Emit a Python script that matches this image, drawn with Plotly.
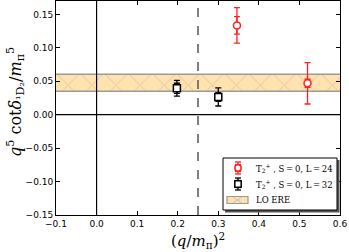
import plotly.graph_objects as go

# data
x24 = [0.346, 0.520]
y24 = [0.1335, 0.047]
err24_outer = [0.0265, 0.031]
err24_inner = [0.013, 0.006]

x32 = [0.198, 0.300]
y32 = [0.0395, 0.0265]
err32_outer = [0.0118, 0.0135]
err32_inner = [0.0075, 0.0065]

ere_low = 0.035
ere_high = 0.0605
ere_x = [-0.1, 0.6]

xtick_vals = [-0.1, 0.0, 0.1, 0.2, 0.3, 0.4, 0.5, 0.6]
xtick_text = ["\u22120.1", "0.0", "0.1", "0.2", "0.3", "0.4", "0.5", "0.6"]
ytick_vals = [-0.15, -0.10, -0.05, 0.0, 0.05, 0.10, 0.15]
ytick_text = ["\u22120.15", "\u22120.10", "\u22120.05", "0.00", "0.05", "0.10", "0.15"]

legend_labels = ["T<sub>2</sub><sup>+</sup> , S\u2009=\u20090, L\u2009=\u200924",
                 "T<sub>2</sub><sup>+</sup> , S\u2009=\u20090, L\u2009=\u200932",
                 "LO ERE"]

threshold_x = 0.25

RED = "#ff2020"
BAND = "#FFE2AE"
BANDEDGE = "#9a9a9a"

# layout geometry (pixels)
W, H = 349, 252
ML, MR, MT, MB = 56, 9, 1, 37
PW = W - ML - MR
PH = H - MT - MB


def px(xp):
    return (xp - ML) / PW


def py(yp):
    return (H - MB - yp) / PH


fig = go.Figure()

# LO ERE band
fig.add_trace(go.Scatter(
    x=ere_x, y=[ere_low, ere_low], mode="lines",
    line=dict(color=BANDEDGE, width=1.5), showlegend=False, hoverinfo="skip"))
fig.add_trace(go.Scatter(
    x=ere_x, y=[ere_high, ere_high], mode="lines",
    line=dict(color=BANDEDGE, width=1.5), fill="tonexty",
    fillcolor=BAND,
    fillpattern=dict(shape="x", fgcolor=BANDEDGE, bgcolor=BAND, size=17, solidity=0.08),
    name=legend_labels[2], showlegend=False))

# L=24
fig.add_trace(go.Scatter(
    x=x24, y=y24, mode="markers",
    marker=dict(size=1, color="rgba(0,0,0,0)"),
    error_y=dict(type="data", array=err24_outer, color=RED, thickness=1.3, width=3),
    showlegend=False, hoverinfo="skip"))
fig.add_trace(go.Scatter(
    x=x24, y=y24, mode="markers",
    marker=dict(symbol="circle", size=7, color="white", line=dict(color=RED, width=1.5)),
    error_y=dict(type="data", array=err24_inner, color=RED, thickness=1.3, width=3),
    name=legend_labels[0], showlegend=False))

# L=32
fig.add_trace(go.Scatter(
    x=x32, y=y32, mode="markers",
    marker=dict(size=1, color="rgba(0,0,0,0)"),
    error_y=dict(type="data", array=err32_outer, color="black", thickness=1.3, width=3),
    showlegend=False, hoverinfo="skip"))
fig.add_trace(go.Scatter(
    x=x32, y=y32, mode="markers",
    marker=dict(symbol="square", size=7, color="white", line=dict(color="black", width=1.5)),
    error_y=dict(type="data", array=err32_inner, color="black", thickness=1.3, width=3),
    name=legend_labels[1], showlegend=False))

# reference lines
fig.add_shape(type="line", x0=0, x1=0, y0=0, y1=1, xref="x", yref="paper",
              line=dict(color="black", width=1.2))
fig.add_shape(type="line", x0=0, x1=1, y0=0, y1=0, xref="paper", yref="y",
              line=dict(color="black", width=1.2))
fig.add_shape(type="line", x0=threshold_x, x1=threshold_x, y0=0, y1=1, xref="x", yref="paper",
              line=dict(color="#555555", width=1.5, dash="dash"))


# ---- manual legend (box + swatches + labels) ----
def rect(x0, y0, x1, y1, **kw):
    fig.add_shape(type="rect", xref="paper", yref="paper",
                  x0=px(x0), x1=px(x1), y0=py(y1), y1=py(y0), layer="above", **kw)


def seg(x0, y0, x1, y1, color, width=1.3):
    fig.add_shape(type="line", xref="paper", yref="paper",
                  x0=px(x0), x1=px(x1), y0=py(y0), y1=py(y1), layer="above",
                  line=dict(color=color, width=width))


rect(225, 160, 339.5, 212.5, fillcolor="#555555", line=dict(width=0))
rect(223, 158, 337, 210, fillcolor="white", line=dict(color="black", width=1))

rows_y = [168, 184, 200]
mx = 238
for yc, col, sym in [(rows_y[0], RED, "circle"), (rows_y[1], "black", "square")]:
    seg(mx, yc - 6, mx, yc + 6, col)
    for yy in (yc - 6, yc - 3.5, yc + 3.5, yc + 6):
        seg(mx - 3, yy, mx + 3, yy, col)
    fig.add_shape(type=sym if sym == "circle" else "rect", xref="paper", yref="paper",
                  x0=px(mx - 3.2), x1=px(mx + 3.2), y0=py(yc + 3.2), y1=py(yc - 3.2),
                  layer="above", fillcolor="white", line=dict(color=col, width=1.5))

rect(227, 196.5, 248, 203.5, fillcolor=BAND, line=dict(color=BANDEDGE, width=1.2))
seg(233, 197, 242, 203, "#b8b8b8", 0.8)
seg(233, 203, 242, 197, "#b8b8b8", 0.8)

for yc, lbl in zip(rows_y, legend_labels):
    fig.add_annotation(x=px(254), y=py(yc), xref="paper", yref="paper",
                       text=lbl, showarrow=False, xanchor="left", yanchor="middle",
                       font=dict(family="DejaVu Serif", size=8.5, color="black"))

# axis titles
fig.add_annotation(x=0.5, y=0, xref="paper", yref="paper", yshift=-13,
                   text="(<i>q</i>/<i>m</i><sub>\u03c0</sub>)<sup>2</sup>",
                   showarrow=False, xanchor="center", yanchor="top",
                   font=dict(family="DejaVu Serif", size=15, color="black"))
fig.add_annotation(x=px(15), y=py(102), xref="paper", yref="paper",
                   text="<i>q</i><sup>5</sup> cot<i>\u03b4</i><sub>\u00b9D\u2082</sub>/<i>m</i><sub>\u03c0</sub><sup>5</sup>",
                   showarrow=False, xanchor="center", yanchor="middle", textangle=-90,
                   font=dict(family="DejaVu Serif", size=16, color="black"))

axis_common = dict(showgrid=False, zeroline=False, showline=True, linecolor="black",
                   linewidth=1, mirror="allticks", ticks="inside", ticklen=4,
                   tickcolor="black", tickfont=dict(family="DejaVu Sans", size=9, color="black"))

fig.update_xaxes(range=[-0.1, 0.6], tickvals=xtick_vals, ticktext=xtick_text, **axis_common)
fig.update_yaxes(range=[-0.15, 0.17], tickvals=ytick_vals, ticktext=ytick_text, **axis_common)

fig.update_layout(
    width=W, height=H,
    margin=dict(l=ML, r=MR, t=MT, b=MB),
    plot_bgcolor="white", paper_bgcolor="white",
    showlegend=False,
)

fig.write_html("out.html", config={"displayModeBar": False},
               post_script="document.body.style.margin='0';")
